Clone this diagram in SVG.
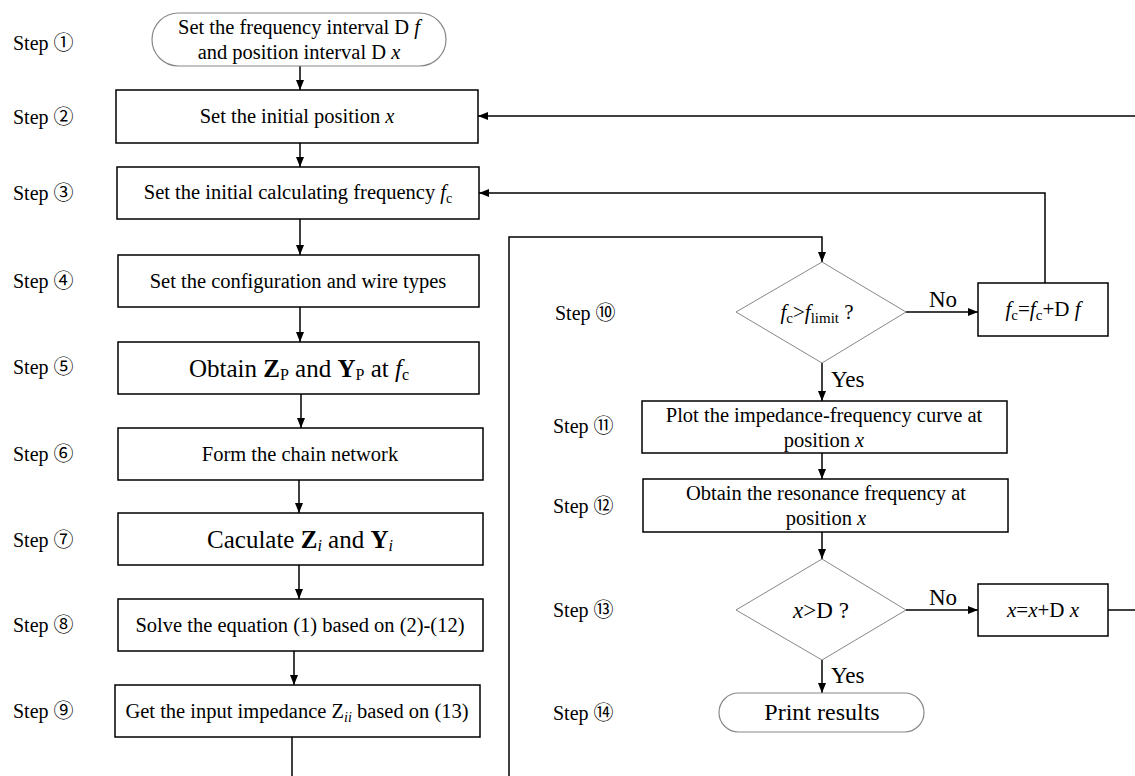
<svg xmlns="http://www.w3.org/2000/svg" width="1135" height="776" viewBox="0 0 1135 776">
<style>
text{font-family:"Liberation Serif","Noto Sans CJK SC","Times New Roman",serif;fill:#000}
.st{font-size:20px}
.bt{font-size:20.5px;text-anchor:middle}
.big{font-size:25px;text-anchor:middle}
.lbl{font-size:23px}
.box{fill:#fff;stroke:#000;stroke-width:1.5}
.dia{fill:#fff;stroke:#888;stroke-width:1}
.term{fill:#fff;stroke:#888;stroke-width:1.2}
.con{fill:none;stroke:#000;stroke-width:1.5}
.it{font-style:italic}
.b{font-weight:bold}
</style>
<defs>
<marker id="ah" markerWidth="10" markerHeight="8" refX="10" refY="4" orient="auto" markerUnits="userSpaceOnUse">
<path d="M0,0 L10,4 L0,8 Z" fill="#000"/>
</marker>
</defs>

<g id="steps">
<text class="st" x="13" y="50">Step ①</text>
<text class="st" x="13" y="124">Step ②</text>
<text class="st" x="13" y="200">Step ③</text>
<text class="st" x="13" y="288">Step ④</text>
<text class="st" x="13" y="374">Step ⑤</text>
<text class="st" x="13" y="461">Step ⑥</text>
<text class="st" x="13" y="547">Step ⑦</text>
<text class="st" x="13" y="632">Step ⑧</text>
<text class="st" x="13" y="718">Step ⑨</text>
<text class="st" x="555" y="320">Step ⑩</text>
<text class="st" x="553" y="433">Step ⑪</text>
<text class="st" x="553" y="513">Step ⑫</text>
<text class="st" x="553" y="617">Step ⑬</text>
<text class="st" x="553" y="720">Step ⑭</text>
</g>

<g id="connectors">
<line class="con" x1="300" y1="66" x2="300" y2="90" marker-end="url(#ah)"/>
<line class="con" x1="300" y1="143" x2="300" y2="167" marker-end="url(#ah)"/>
<line class="con" x1="300" y1="219" x2="300" y2="255" marker-end="url(#ah)"/>
<line class="con" x1="300" y1="307" x2="300" y2="342" marker-end="url(#ah)"/>
<line class="con" x1="301" y1="394" x2="301" y2="428" marker-end="url(#ah)"/>
<line class="con" x1="299" y1="480" x2="299" y2="513" marker-end="url(#ah)"/>
<line class="con" x1="299" y1="565" x2="299" y2="599" marker-end="url(#ah)"/>
<line class="con" x1="294" y1="651" x2="294" y2="685" marker-end="url(#ah)"/>
<line class="con" x1="292" y1="737" x2="292" y2="776"/>
<polyline class="con" points="509,776 509,237 822,237 822,262" marker-end="url(#ah)"/>
<line class="con" x1="906" y1="312" x2="978" y2="312" marker-end="url(#ah)"/>
<polyline class="con" points="1045,283 1045,193 479,193" marker-end="url(#ah)"/>
<line class="con" x1="822" y1="363" x2="822" y2="401" marker-end="url(#ah)"/>
<line class="con" x1="822" y1="453" x2="822" y2="479" marker-end="url(#ah)"/>
<line class="con" x1="822" y1="532" x2="822" y2="559" marker-end="url(#ah)"/>
<line class="con" x1="906" y1="610" x2="978" y2="610" marker-end="url(#ah)"/>
<line class="con" x1="1108" y1="610" x2="1135" y2="610"/>
<line class="con" x1="1135" y1="116" x2="478" y2="116" marker-end="url(#ah)"/>
<line class="con" x1="822" y1="660" x2="822" y2="693" marker-end="url(#ah)"/>
<text class="lbl" x="929" y="307">No</text>
<text class="lbl" x="831" y="387">Yes</text>
<text class="lbl" x="929" y="605">No</text>
<text class="lbl" x="831" y="683">Yes</text>
</g>

<g id="n1">
<rect class="term" x="152" y="13" width="294" height="53" rx="26.5"/>
<text class="bt" x="299" y="34">Set the frequency interval D <tspan class="it">f</tspan></text>
<text class="bt" x="299" y="59">and position interval D <tspan class="it">x</tspan></text>
</g>
<g id="n2">
<rect class="box" x="116" y="90" width="362" height="53"/>
<text class="bt" x="297" y="123">Set the initial position <tspan class="it">x</tspan></text>
</g>
<g id="n3">
<rect class="box" x="117" y="167" width="362" height="52"/>
<text class="bt" x="298" y="199">Set the initial calculating frequency <tspan class="it">f</tspan><tspan font-size="14" dy="4">c</tspan></text>
</g>
<g id="n4">
<rect class="box" x="118" y="255" width="361" height="52"/>
<text class="bt" x="298" y="288">Set the configuration and wire types</text>
</g>
<g id="n5">
<rect class="box" x="118" y="342" width="361" height="52"/>
<text class="big" x="299" y="377">Obtain <tspan class="b">Z</tspan><tspan font-size="16" dy="3">P</tspan><tspan dy="-3"> and </tspan><tspan class="b">Y</tspan><tspan font-size="16" dy="3">P</tspan><tspan dy="-3"> at </tspan><tspan class="it">f</tspan><tspan font-size="16" dy="3">c</tspan></text>
</g>
<g id="n6">
<rect class="box" x="118" y="428" width="365" height="52"/>
<text class="bt" x="300" y="461">Form the chain network</text>
</g>
<g id="n7">
<rect class="box" x="118" y="513" width="365" height="52"/>
<text class="big" x="300" y="548">Caculate <tspan class="b">Z</tspan><tspan class="it" font-size="16" dy="3">i</tspan><tspan dy="-3"> and </tspan><tspan class="b">Y</tspan><tspan class="it" font-size="16" dy="3">i</tspan></text>
</g>
<g id="n8">
<rect class="box" x="118" y="599" width="365" height="52"/>
<text class="bt" x="300" y="632">Solve the equation (1) based on (2)-(12)</text>
</g>
<g id="n9">
<rect class="box" x="115" y="685" width="365" height="52"/>
<text class="bt" x="297" y="718">Get the input impedance Z<tspan class="it" font-size="14" dy="4">ii</tspan><tspan dy="-4"> based on (13)</tspan></text>
</g>
<g id="n10">
<polygon class="dia" points="822,262 906,312 822,363 736,312"/>
<text x="817" y="319" font-size="21" text-anchor="middle"><tspan class="it">f</tspan><tspan font-size="15" dy="4">c</tspan><tspan dy="-4">&gt;</tspan><tspan class="it">f</tspan><tspan font-size="15" dy="4">limit</tspan><tspan dy="-4"> ?</tspan></text>
</g>
<g id="n10b">
<rect class="box" x="978" y="283" width="130" height="53"/>
<text x="1043" y="316" font-size="21" text-anchor="middle"><tspan class="it">f</tspan><tspan font-size="15" dy="4">c</tspan><tspan dy="-4">=</tspan><tspan class="it">f</tspan><tspan font-size="15" dy="4">c</tspan><tspan dy="-4">+D </tspan><tspan class="it">f</tspan></text>
</g>
<g id="n11">
<rect class="box" x="642" y="401" width="365" height="52"/>
<text class="bt" x="824" y="422">Plot the impedance-frequency curve at</text>
<text class="bt" x="824" y="447">position <tspan class="it">x</tspan></text>
</g>
<g id="n12">
<rect class="box" x="643" y="479" width="365" height="53"/>
<text class="bt" x="826" y="500">Obtain the resonance frequency at</text>
<text class="bt" x="826" y="525">position <tspan class="it">x</tspan></text>
</g>
<g id="n13">
<polygon class="dia" points="822,559 906,610 822,660 736,610"/>
<text x="821" y="618" font-size="23" text-anchor="middle"><tspan class="it">x</tspan>&gt;D ?</text>
</g>
<g id="n13b">
<rect class="box" x="978" y="584" width="130" height="52"/>
<text x="1043" y="617" font-size="21" text-anchor="middle"><tspan class="it">x</tspan>=<tspan class="it">x</tspan>+D <tspan class="it">x</tspan></text>
</g>
<g id="n14">
<rect class="term" x="719" y="693" width="205" height="39" rx="19.5"/>
<text x="822" y="720" font-size="24" text-anchor="middle">Print results</text>
</g>
</svg>
